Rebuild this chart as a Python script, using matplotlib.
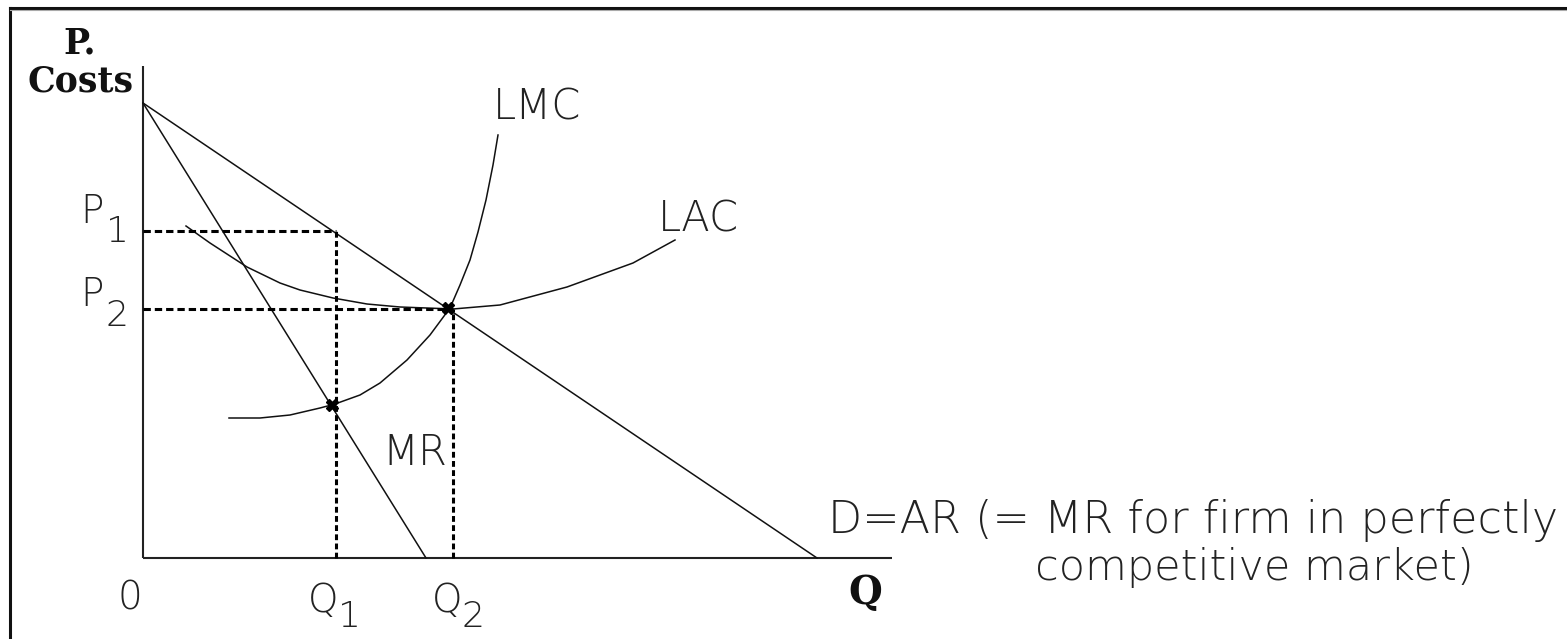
import matplotlib
matplotlib.use('Agg')
import matplotlib.pyplot as plt
from matplotlib.lines import Line2D

# --- data (1 unit = 10 px of the original drawing, origin at the axes corner)
demand_q = [0.0, 67.4]
demand_p = [45.5, 0.0]

mr_q = [0.0, 28.3]
mr_p = [45.5, 0.0]

lmc_q = [8.6, 11.7, 14.7, 17.7, 19.2, 21.7, 23.7, 26.4, 28.7, 30.7, 31.7, 32.7, 33.5, 34.3, 35.0, 35.5]
lmc_p = [14.0, 14.0, 14.3, 15.0, 15.4, 16.3, 17.5, 19.8, 22.3, 25.0, 27.3, 29.8, 32.6, 35.8, 39.3, 42.3]

lac_q = [4.3, 6.7, 10.4, 13.7, 15.7, 19.0, 22.4, 25.7, 31.0, 35.7, 42.4, 49.0, 53.2]
lac_p = [33.2, 31.5, 29.1, 27.5, 26.8, 26.0, 25.4, 25.1, 24.9, 25.3, 27.1, 29.5, 31.8]

Q1, P1 = 19.25, 32.7
Q2, P2 = 31.0, 24.9
crossings_q = [18.9, 30.5]
crossings_p = [15.3, 25.0]

y_top = 49.2
x_end = 74.9

SANS = ['DejaVu Sans']
SERIF = ['DejaVu Serif']

fig = plt.figure(figsize=(15.67, 6.39), dpi=100)
ax = fig.add_axes([0, 0, 1, 1])
ax.set_xlim(-14.3, 142.4)
ax.set_ylim(-8.1, 55.8)
ax.axis('off')

# frame of the picture (left and top edges only)
fig.add_artist(Line2D([9.5 / 1567, 9.5 / 1567], [0, 1 - 7.5 / 639],
                      transform=fig.transFigure, color='#111111', lw=2.2))
fig.add_artist(Line2D([9.5 / 1567, 1], [1 - 7.5 / 639, 1 - 7.5 / 639],
                      transform=fig.transFigure, color='#111111', lw=2.2))
fig.add_artist(Line2D([9.5 / 1567, 1], [1 - 9.7 / 639, 1 - 9.7 / 639],
                      transform=fig.transFigure, color='#aaaaaa', lw=0.8))

# axes
ax.plot([0, 0], [0, y_top], color='#222222', lw=1.5, solid_capstyle='butt')
ax.plot([0, x_end], [0, 0], color='#222222', lw=1.5, solid_capstyle='butt')

# curves
line_kw = dict(color='#111111', lw=1.1)
ax.plot(demand_q, demand_p, **line_kw)
ax.plot(mr_q, mr_p, **line_kw)
ax.plot(lmc_q, lmc_p, **line_kw)
ax.plot(lac_q, lac_p, **line_kw)

# dashed guides
h_kw = dict(color='black', lw=2.2, dashes=(2.4, 1.3))
v_kw = dict(color='black', lw=2.2, dashes=(1.9, 1.1))
ax.plot([0, Q1], [P1, P1], **h_kw)
ax.plot([0, Q2], [P2, P2], **h_kw)
ax.plot([Q1, Q1], [0, P1], **v_kw)
ax.plot([Q2, Q2], [0, P2], **v_kw)

ax.plot(crossings_q, crossings_p, linestyle='none', marker='X',
        markersize=9, color='black')

# labels
lab = dict(family=SANS, fontweight='light', color='#222222', va='baseline')
bold = dict(family=SERIF, fontweight='bold', color='#111111', va='baseline', ha='center')
ax.text(-6.3, 50.5, 'P.', fontsize=25, **bold)
ax.text(-6.3, 46.6, 'Costs', fontsize=25, **bold)

ax.text(-6.3, 33.5, 'P', fontsize=28, ha='left', **lab)
ax.text(-3.7, 31.6, '1', fontsize=26, ha='left', **lab)
ax.text(-6.3, 25.2, 'P', fontsize=28, ha='left', **lab)
ax.text(-3.7, 23.2, '2', fontsize=26, ha='left', **lab)

ax.text(-1.3, -5.2, '0', fontsize=28, ha='center', **lab)
ax.text(16.5, -5.4, 'Q', fontsize=28, ha='left', **lab)
ax.text(19.5, -6.9, '1', fontsize=26, ha='left', **lab)
ax.text(28.9, -5.4, 'Q', fontsize=28, ha='left', **lab)
ax.text(31.9, -6.9, '2', fontsize=26, ha='left', **lab)
ax.text(72.2, -4.6, 'Q', fontsize=28, **bold)

ax.text(35.0, 43.8, 'LMC', fontsize=30, ha='left', **lab)
ax.text(51.5, 32.6, 'LAC', fontsize=30, ha='left', **lab)
ax.text(23.9, 9.3, 'MR', fontsize=30, ha='left', **lab)

ax.text(68.5, 2.5, 'D=AR (= MR for firm in perfectly', fontsize=32, ha='left', **lab)
ax.text(89.2, -2.2, 'competitive market)', fontsize=31, ha='left', **lab)

fig.savefig('out.png', dpi=100, facecolor='white')
plt.close(fig)
